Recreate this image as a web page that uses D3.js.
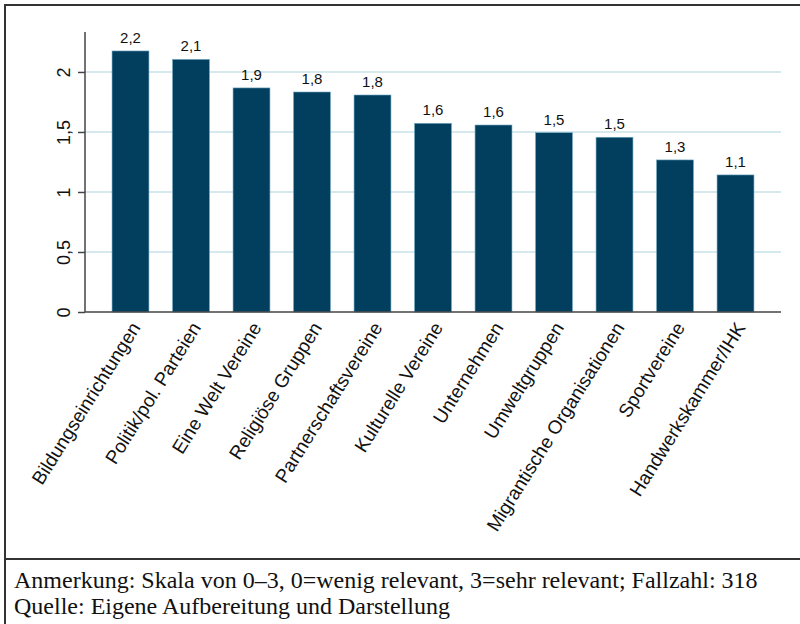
<!DOCTYPE html>
<html><head><meta charset="utf-8">
<script src="https://cdn.jsdelivr.net/npm/d3@7"></script>
<style>html,body{margin:0;padding:0;background:#fff;}</style>
</head><body>
<script>
const categories = ["Bildungseinrichtungen","Politik/pol. Parteien","Eine Welt Vereine","Religiöse Gruppen","Partnerschaftsvereine","Kulturelle Vereine","Unternehmen","Umweltgruppen","Migrantische Organisationen","Sportvereine","Handwerkskammer/IHK"];
const values = [2.175, 2.105, 1.867, 1.833, 1.808, 1.572, 1.558, 1.494, 1.456, 1.267, 1.142];
const valueLabels = ["2,2","2,1","1,9","1,8","1,8","1,6","1,6","1,5","1,5","1,3","1,1"];
const yTicks = [0, 0.5, 1, 1.5, 2];
const yTickLabels = ["0","0,5","1","1,5","2"];
const notes = ["Anmerkung: Skala von 0–3, 0=wenig relevant, 3=sehr relevant; Fallzahl: 318","Quelle: Eigene Aufbereitung und Darstellung"];

const W = 800, H = 624;
const svg = d3.select("body").append("svg").attr("width", W).attr("height", H);

// frame
svg.append("line").attr("x1",5).attr("x2",800).attr("y1",5).attr("y2",5).attr("stroke","#333").attr("stroke-width",2);
svg.append("line").attr("x1",5).attr("x2",5).attr("y1",4).attr("y2",624).attr("stroke","#333").attr("stroke-width",2);
svg.append("line").attr("x1",5).attr("x2",800).attr("y1",559).attr("y2",559).attr("stroke","#333").attr("stroke-width",2);

const x = d3.scaleBand().domain(categories).range([85, 781]).paddingInner(0.39).paddingOuter(0.447);
const y = d3.scaleLinear().domain([0, 2.333]).range([312, 32]);

// gridlines
svg.append("g").selectAll("line").data(yTicks.filter(d=>d>0)).join("line")
  .attr("x1",85).attr("x2",781).attr("y1",d=>y(d)).attr("y2",d=>y(d))
  .attr("stroke","#d6e9ef").attr("stroke-width",2);

// bars
svg.append("g").selectAll("rect").data(values).join("rect")
  .attr("x",(d,i)=>x(categories[i])).attr("width",x.bandwidth())
  .attr("y",d=>y(d)).attr("height",d=>y(0)-y(d))
  .attr("fill","#023f5f").attr("stroke","#6fa8c0").attr("stroke-width",0.6);

// value labels
svg.append("g").selectAll("text").data(values).join("text")
  .attr("x",(d,i)=>x(categories[i])+x.bandwidth()/2).attr("y",d=>y(d)-8)
  .attr("text-anchor","middle").attr("font-family","Liberation Sans, Arial, sans-serif")
  .attr("font-size",15).attr("fill","#111").text((d,i)=>valueLabels[i]);

// y axis
const yAxis = d3.axisLeft(y).tickValues(yTicks).tickSize(7).tickFormat((d,i)=>yTickLabels[i]);
const gy = svg.append("g").attr("transform","translate(85,0)").call(yAxis);
gy.select(".domain").attr("stroke","#444").attr("stroke-width",1.5).attr("d","M0,32V312");
gy.selectAll(".tick line").attr("stroke","#444").attr("stroke-width",1.5);
gy.selectAll(".tick text").attr("font-family","Liberation Sans, Arial, sans-serif").attr("font-size",18).attr("fill","#111")
  .attr("transform","rotate(-90)").attr("x",0).attr("y",-15).attr("dy","0").attr("text-anchor","middle");

// x axis
const xAxis = d3.axisBottom(x).tickSize(0).tickSizeOuter(0);
const gx = svg.append("g").attr("transform","translate(0,312)").call(xAxis);
gx.select(".domain").attr("stroke","#444").attr("stroke-width",1.5).attr("d","M85,0H781");
gx.selectAll(".tick text").attr("font-family","Liberation Sans, Arial, sans-serif").attr("font-size",19).attr("fill","#111")
  .attr("text-anchor","end").attr("dy","0.35em").attr("y",0)
  .attr("transform","translate(5,12) rotate(-58)");

// notes
svg.append("g").selectAll("text").data(notes).join("text")
  .attr("x",14).attr("y",(d,i)=>588+i*26)
  .attr("font-family","Liberation Serif, Times New Roman, serif").attr("font-size",24).attr("fill","#111")
  .text(d=>d);
</script>
</body></html>
